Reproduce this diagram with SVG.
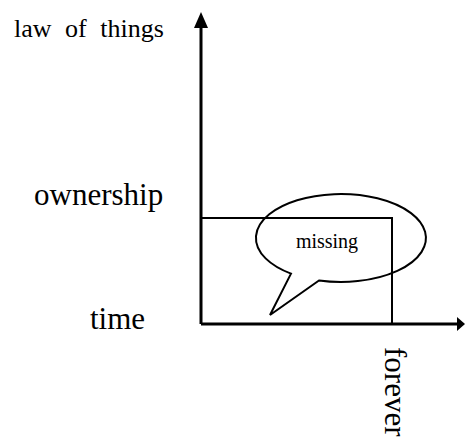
<svg xmlns="http://www.w3.org/2000/svg" width="465" height="440" viewBox="0 0 465 440">
<style>
.ax{stroke:#000;stroke-width:3;fill:none}
.ln{stroke:#000;stroke-width:2;fill:none}
.t{font-family:"Liberation Serif","Times New Roman",serif;fill:#000}
</style>
<rect width="465" height="440" fill="#fff"/>
<g id="connectors">
<path class="ax" d="M201,324 L201,28"/>
<path d="M194,28 L201,12 L208,28 z" fill="#000"/>
<path class="ax" d="M201,324 L457,324"/>
<path d="M457,317 L465,324 L457,331 z" fill="#000"/>
<path class="ln" d="M201,218 L392,218 L392,324"/>
</g>
<g id="bubble">
<path class="ln" d="M319,280.5 A85,44 0 1 0 291,273.6 L270,315 Z" stroke-linejoin="miter"/>
<text class="t" x="327" y="248" font-size="20" text-anchor="middle">missing</text>
</g>
<g id="labels">
<text class="t" x="14" y="37" font-size="26" word-spacing="7">law of things</text>
<text class="t" x="34" y="205" font-size="31">ownership</text>
<text class="t" x="90" y="329" font-size="31">time</text>
<text class="t" transform="translate(385,347) rotate(90)" font-size="31">forever</text>
</g>
</svg>
